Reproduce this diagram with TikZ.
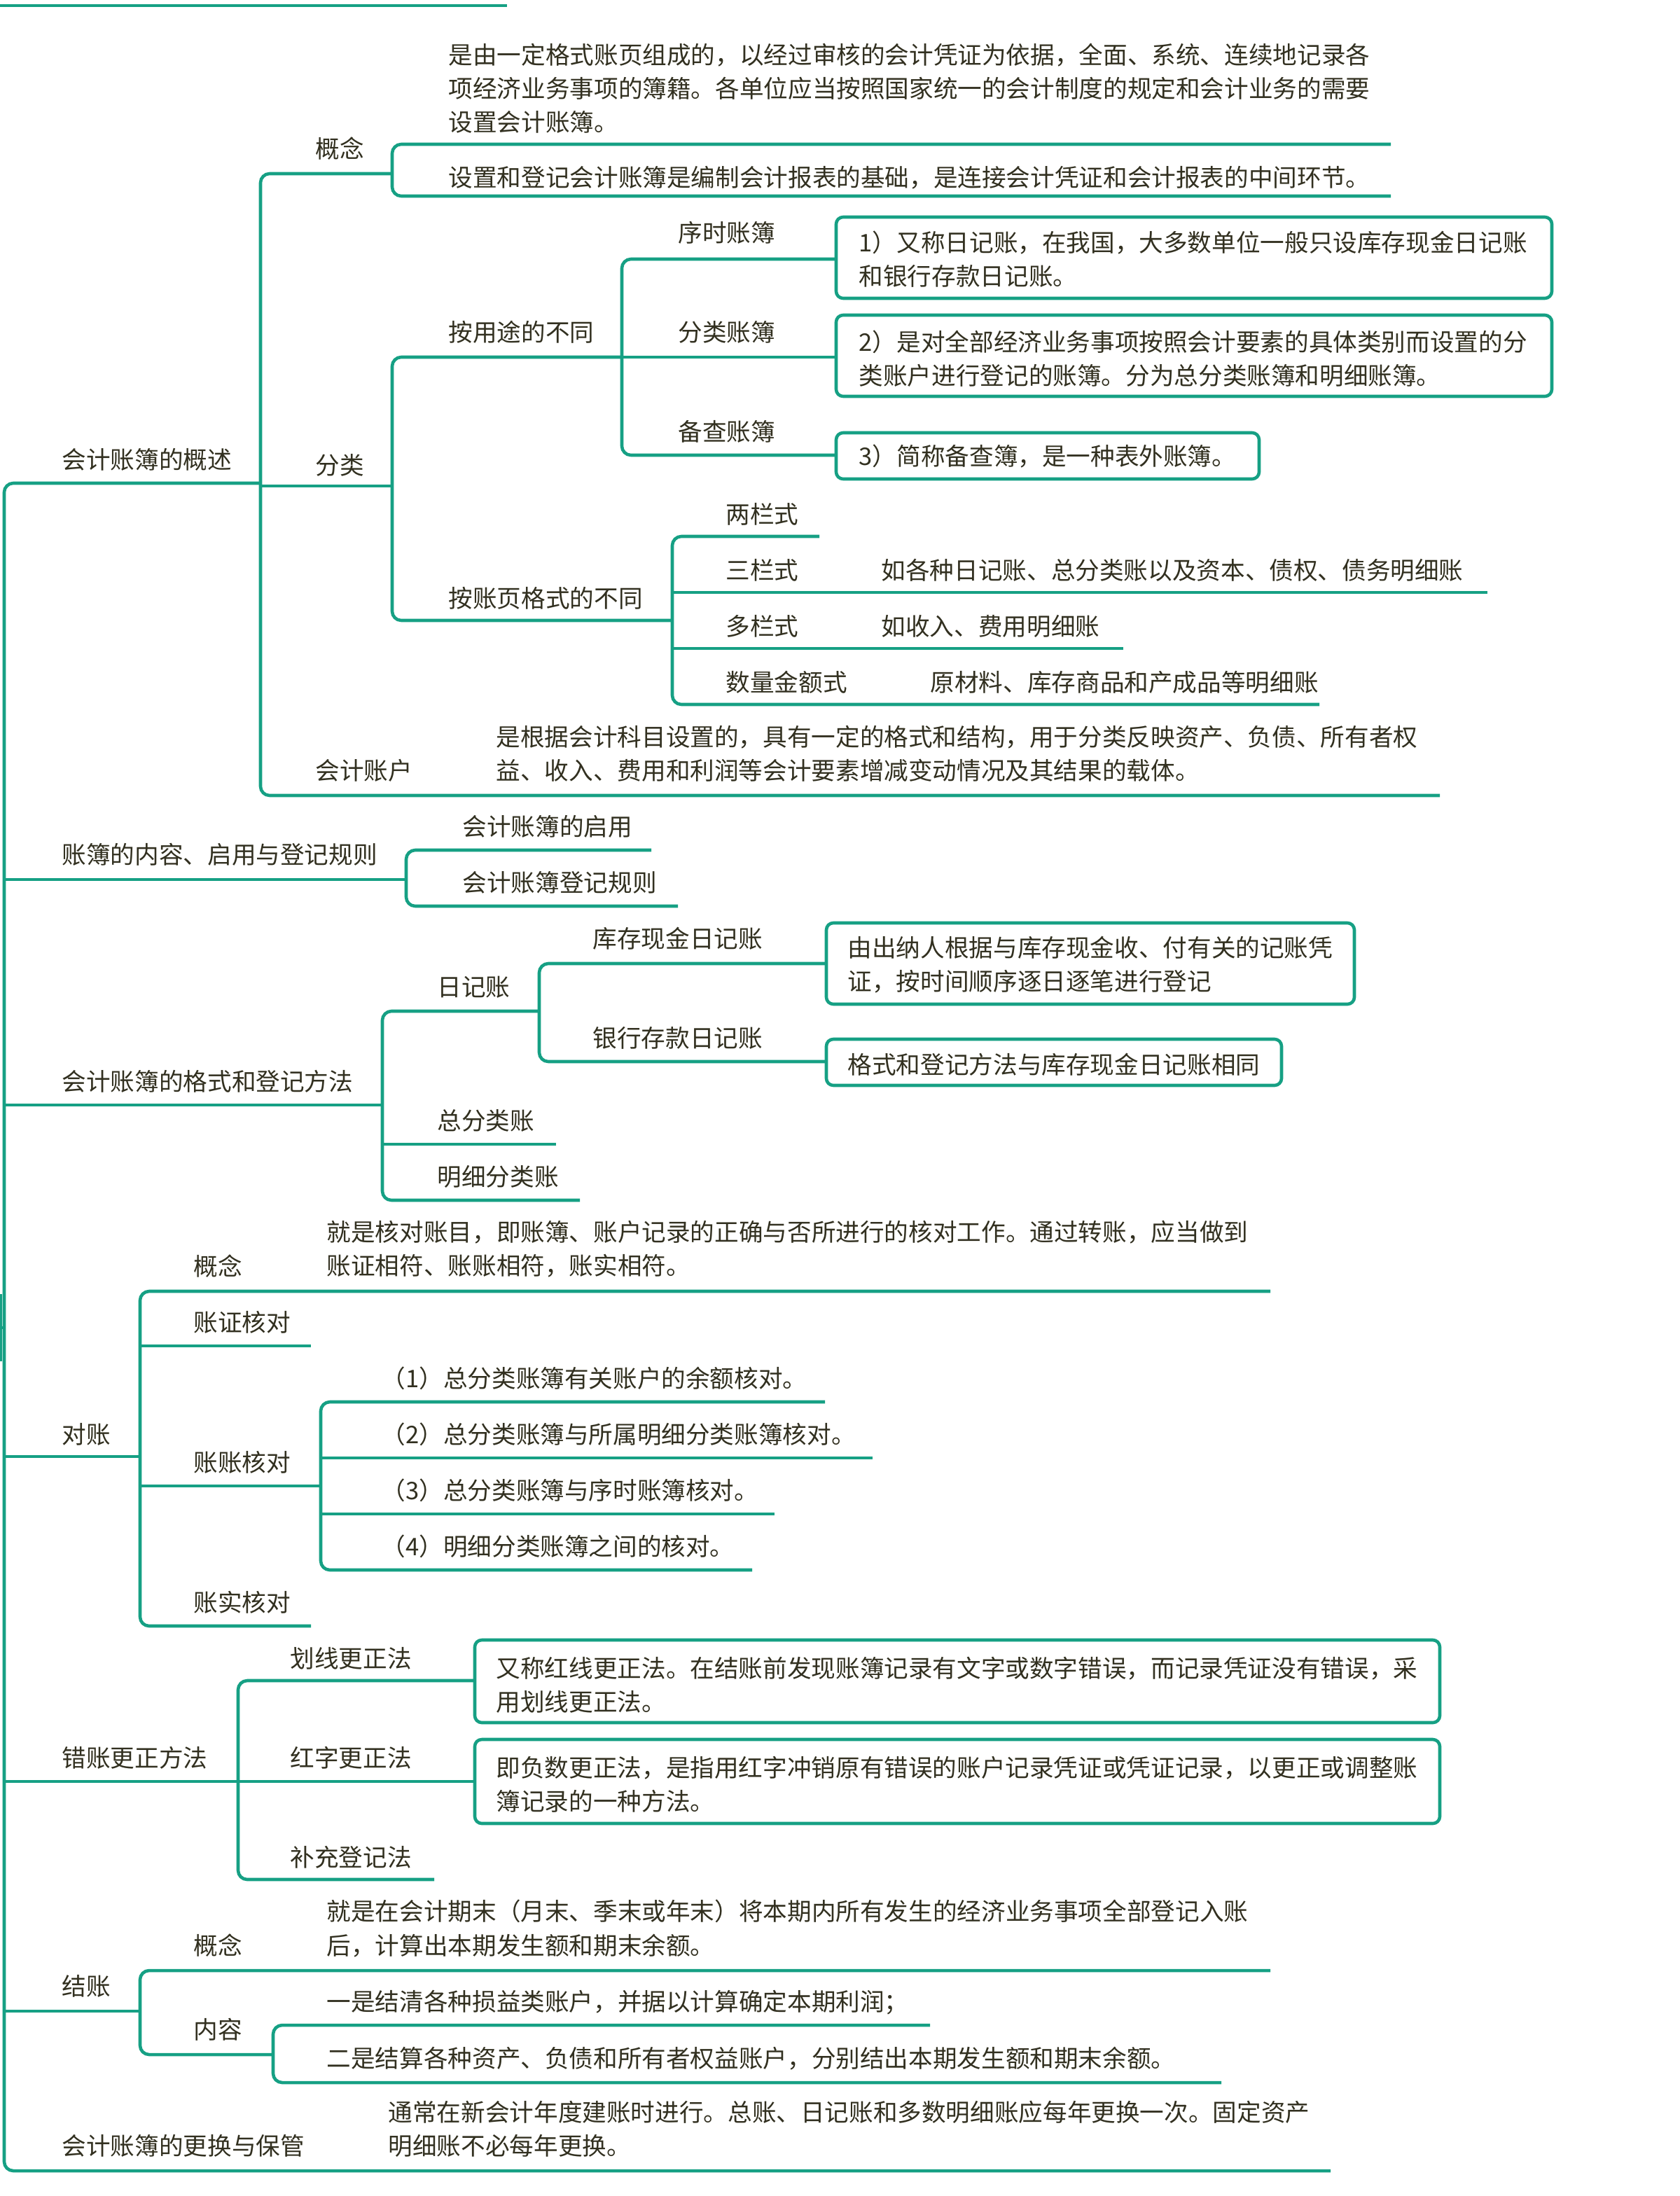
\documentclass[tikz,border=0pt]{standalone}
\usepackage{fontspec}
\setmainfont{Noto Sans CJK SC}
\definecolor{teal0}{RGB}{22,160,132}
\definecolor{ink}{RGB}{50,48,32}
\tikzset{
  br/.style={draw=teal0, line width=1.3pt, rounded corners=1.3mm},
  lbl/.style={anchor=west, inner sep=0pt, text=ink, font=\fontsize{9.85pt}{13.7pt}\selectfont, align=left},
  bx/.style={draw=teal0, line width=1.3pt, rounded corners=1mm, fill=white},
}
\begin{document}
\begin{tikzpicture}[x=0.2mm,y=-0.2mm]
\fill[white] (0,0) rectangle (1199,1568);
\useasboundingbox (0,0) rectangle (1199,1568);

% top remnant line
\coordinate (t0) at (0,4); \coordinate (t1) at (362,4);
\draw[br] (t0) -- (t1);

% root connection at left
\coordinate (r0) at (0.5,924); \coordinate (r1) at (0.5,972); \coordinate (r2) at (3,948);
\draw[br, rounded corners=0pt] (r0) -- (r1);
\draw[br, rounded corners=0pt] (0.5,948) -- (r2);

% ===== trunk =====
\draw[br] (186,345) -- (3,345) -- (3,1550) -- (950,1550);
\foreach \y/\x in {628/290, 789/273, 1040/100, 1272/170, 1436/100}
  \draw[br] (3,\y) -- (\x,\y);

% ===== 1 会计账簿的概述 =====
\node[lbl] (n1) at (44,328) {会计账簿的概述};
\draw[br] (280,124) -- (186,124) -- (186,568) -- (1028,568);
\draw[br] (186,347) -- (280,347);
\node[lbl] (n11) at (225,106) {概念};
\node[lbl] (n12) at (225,332) {分类};
\node[lbl] (n13) at (225,550) {会计账户};
% 概念
\draw[br] (993,103) -- (280,103) -- (280,140) -- (993,140);
\node[lbl] (n111) at (320,63) {是由一定格式账页组成的，以经过审核的会计凭证为依据，全面、系统、连续地记录各\\项经济业务事项的簿籍。各单位应当按照国家统一的会计制度的规定和会计业务的需要\\设置会计账簿。};
\node[lbl] (n112) at (320,127) {设置和登记会计账簿是编制会计报表的基础，是连接会计凭证和会计报表的中间环节。};
% 分类
\draw[br] (444,255) -- (280,255) -- (280,443) -- (480,443);
\node[lbl] (n121) at (320,237) {按用途的不同};
\node[lbl] (n122) at (320,427) {按账页格式的不同};
\draw[br] (597,185) -- (444,185) -- (444,325) -- (597,325);
\draw[br] (444,255) -- (597,255);
\node[lbl] (n1211) at (484,166) {序时账簿};
\node[lbl] (n1212) at (484,237) {分类账簿};
\node[lbl] (n1213) at (484,308) {备查账簿};
\draw[bx] (597,155) rectangle (1108,213);
\draw[bx] (597,225) rectangle (1108,283);
\draw[bx] (597,309) rectangle (899,342);
\node[lbl] (b1) at (613,185) {1）又称日记账，在我国，大多数单位一般只设库存现金日记账\\和银行存款日记账。};
\node[lbl] (b2) at (613,256) {2）是对全部经济业务事项按照会计要素的具体类别而设置的分\\类账户进行登记的账簿。分为总分类账簿和明细账簿。};
\node[lbl] (b3) at (613,326) {3）简称备查簿，是一种表外账簿。};
% 按账页格式
\draw[br] (585,383) -- (480,383) -- (480,503) -- (942,503);
\draw[br] (480,423) -- (1062,423);
\draw[br] (480,463) -- (802,463);
\node[lbl] (n1221) at (518,367) {两栏式};
\node[lbl] (n1222) at (518,407) {三栏式};
\node[lbl] (n1223) at (518,447) {多栏式};
\node[lbl] (n1224) at (518,487) {数量金额式};
\node[lbl] (l1222) at (629,407) {如各种日记账、总分类账以及资本、债权、债务明细账};
\node[lbl] (l1223) at (629,447) {如收入、费用明细账};
\node[lbl] (l1224) at (664,487) {原材料、库存商品和产成品等明细账};
% 会计账户
\node[lbl] (n131) at (354,538) {是根据会计科目设置的，具有一定的格式和结构，用于分类反映资产、负债、所有者权\\益、收入、费用和利润等会计要素增减变动情况及其结果的载体。};

% ===== 2 账簿的内容、启用与登记规则 =====
\node[lbl] (n2) at (44,610) {账簿的内容、启用与登记规则};
\draw[br] (465,607) -- (290,607) -- (290,647) -- (484,647);
\node[lbl] (n21) at (330,590) {会计账簿的启用};
\node[lbl] (n22) at (330,630) {会计账簿登记规则};

% ===== 3 会计账簿的格式和登记方法 =====
\node[lbl] (n3) at (44,772) {会计账簿的格式和登记方法};
\draw[br] (385,722) -- (273,722) -- (273,857) -- (414,857);
\draw[br] (273,817) -- (397,817);
\node[lbl] (n31) at (312,705) {日记账};
\node[lbl] (n32) at (312,800) {总分类账};
\node[lbl] (n33) at (312,840) {明细分类账};
\draw[br] (590,688) -- (385,688) -- (385,758) -- (590,758);
\node[lbl] (n311) at (423,670) {库存现金日记账};
\node[lbl] (n312) at (423,741) {银行存款日记账};
\draw[bx] (590,659) rectangle (967,717);
\draw[bx] (590,742) rectangle (915,775);
\node[lbl] (b4) at (605,689) {由出纳人根据与库存现金收、付有关的记账凭\\证，按时间顺序逐日逐笔进行登记};
\node[lbl] (b5) at (605,760) {格式和登记方法与库存现金日记账相同};

% ===== 4 对账 =====
\node[lbl] (n4) at (44,1024) {对账};
\draw[br] (907,922) -- (100,922) -- (100,1161) -- (222,1161);
\draw[br] (100,961) -- (222,961);
\draw[br] (100,1061) -- (229,1061);
\node[lbl] (n41) at (138,904) {概念};
\node[lbl] (n42) at (138,944) {账证核对};
\node[lbl] (n43) at (138,1044) {账账核对};
\node[lbl] (n44) at (138,1144) {账实核对};
\node[lbl] (n411) at (233,892) {就是核对账目，即账簿、账户记录的正确与否所进行的核对工作。通过转账，应当做到\\账证相符、账账相符，账实相符。};
\draw[br] (589,1001) -- (229,1001) -- (229,1121) -- (537,1121);
\draw[br] (229,1041) -- (623,1041);
\draw[br] (229,1081) -- (553,1081);
\node[lbl] (n431) at (272,984) {（1）总分类账簿有关账户的余额核对。};
\node[lbl] (n432) at (272,1024) {（2）总分类账簿与所属明细分类账簿核对。};
\node[lbl] (n433) at (272,1064) {（3）总分类账簿与序时账簿核对。};
\node[lbl] (n434) at (272,1104) {（4）明细分类账簿之间的核对。};

% ===== 5 错账更正方法 =====
\node[lbl] (n5) at (44,1255) {错账更正方法};
\draw[br] (339,1200) -- (170,1200) -- (170,1342) -- (310,1342);
\draw[br] (170,1272) -- (339,1272);
\node[lbl] (n51) at (207,1184) {划线更正法};
\node[lbl] (n52) at (207,1255) {红字更正法};
\node[lbl] (n53) at (207,1326) {补充登记法};
\draw[bx] (339,1171) rectangle (1028,1230);
\draw[bx] (339,1242) rectangle (1028,1302);
\node[lbl] (b6) at (354,1203) {又称红线更正法。在结账前发现账簿记录有文字或数字错误，而记录凭证没有错误，采\\用划线更正法。};
\node[lbl] (b7) at (354,1274) {即负数更正法，是指用红字冲销原有错误的账户记录凭证或凭证记录，以更正或调整账\\簿记录的一种方法。};

% ===== 6 结账 =====
\node[lbl] (n6) at (44,1418) {结账};
\draw[br] (907,1407) -- (100,1407) -- (100,1467) -- (195,1467);
\node[lbl] (n61) at (138,1389) {概念};
\node[lbl] (n62) at (138,1449) {内容};
\node[lbl] (n611) at (233,1377) {就是在会计期末（月末、季末或年末）将本期内所有发生的经济业务事项全部登记入账\\后，计算出本期发生额和期末余额。};
\draw[br] (664,1446) -- (195,1446) -- (195,1487) -- (872,1487);
\node[lbl] (n621) at (233,1430) {一是结清各种损益类账户，并据以计算确定本期利润；};
\node[lbl] (n622) at (233,1470) {二是结算各种资产、负债和所有者权益账户，分别结出本期发生额和期末余额。};

% ===== 7 会计账簿的更换与保管 =====
\node[lbl] (n7) at (44,1532) {会计账簿的更换与保管};
\node[lbl] (n71) at (277,1520) {通常在新会计年度建账时进行。总账、日记账和多数明细账应每年更换一次。固定资产\\明细账不必每年更换。};
\end{tikzpicture}
\end{document}
